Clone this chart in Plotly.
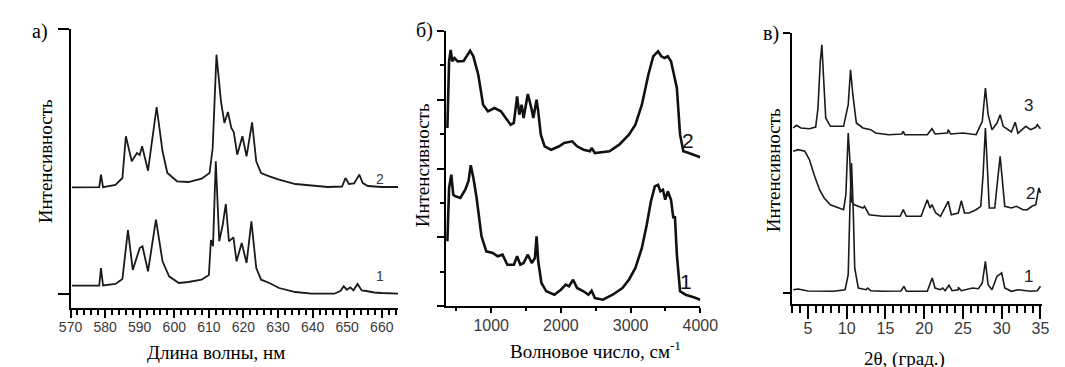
import plotly.graph_objects as go

W, H = 1065, 367

# ---------------- Panel а: luminescence ----------------
lum_x1 = [570.4, 578.3, 578.8, 579.4, 583.0, 585.0, 586.6, 588.0, 590.0, 590.8, 592.4, 594.7,
          596.6, 598.5, 601.3, 604.1, 607.9, 610.0, 610.6, 611.2, 612.0, 613.0, 614.0, 614.9,
          615.8, 617.1, 618.0, 619.5, 620.9, 622.3, 623.7, 625.1, 627.5, 630.3, 635.0, 639.7,
          646.3, 648.1, 649.0, 649.9, 650.9, 651.8, 653.0, 654.2, 655.5, 657.8, 660.0, 664.7]
lum_y1 = [22.3, 22.5, 40.0, 22.5, 24.0, 29.0, 78.0, 38.0, 60.0, 61.7, 36.7, 88.3,
          46.7, 31.7, 25.0, 26.0, 28.3, 33.0, 68.0, 61.7, 146.7, 66.7, 83.0, 104.0,
          66.7, 70.7, 46.7, 65.0, 45.0, 86.7, 40.0, 28.3, 25.0, 20.0, 16.0, 14.3,
          14.3, 17.3, 21.7, 18.3, 20.7, 17.7, 24.0, 17.5, 17.0, 15.5, 15.0, 14.3]

lum_x2 = [570.4, 578.3, 578.8, 579.4, 583.0, 585.0, 586.0, 587.7, 589.2, 590.0, 590.7, 592.4,
          594.9, 596.6, 598.0, 600.8, 604.1, 607.9, 610.2, 611.1, 612.2, 613.5, 614.5, 615.5,
          616.5, 617.2, 618.2, 619.7, 620.9, 622.5, 623.7, 625.1, 627.5, 630.3, 635.0, 644.4,
          648.5, 649.5, 650.5, 652.0, 653.5, 654.5, 656.0, 660.0, 664.7]
lum_y2 = [120.7, 120.8, 133.3, 120.8, 123.0, 130.0, 171.7, 146.7, 155.0, 153.0, 161.7, 137.3,
          201.0, 156.7, 135.0, 126.7, 126.0, 129.3, 135.0, 160.0, 253.3, 206.7, 185.0, 196.0,
          180.0, 176.0, 153.3, 171.7, 151.7, 185.7, 146.7, 135.0, 131.7, 128.3, 124.0, 121.0,
          121.5, 130.0, 124.0, 124.5, 133.3, 125.0, 122.0, 121.0, 121.0]

# ---------------- Panel б: IR spectra ----------------
ir_x2 = [372, 396, 419, 442, 474, 520, 605, 651, 698, 744, 815, 884, 954, 1047, 1093, 1140,
         1209, 1279, 1325, 1372, 1404, 1437, 1465, 1526, 1582, 1605, 1651, 1675, 1712, 1767,
         1860, 1976, 2046, 2162, 2232, 2325, 2418, 2441, 2488, 2697, 2837, 2976, 3069, 3162,
         3255, 3325, 3394, 3441, 3487, 3534, 3580, 3627, 3664, 3710, 3757, 3836, 3906, 4000]
ir_y2 = [178.0, 244.7, 256.0, 244.7, 248.0, 244.7, 245.0, 249.7, 255.3, 249.7, 231.3, 201.3,
         194.7, 198.0, 196.3, 194.7, 188.0, 181.3, 183.0, 209.7, 191.3, 201.3, 188.0, 212.0,
         196.3, 188.0, 206.3, 194.7, 171.3, 159.7, 156.3, 159.7, 163.0, 164.7, 159.7, 156.3,
         154.7, 158.0, 153.0, 154.7, 161.3, 171.3, 181.3, 201.3, 231.3, 249.7, 254.7, 249.7,
         248.0, 249.7, 244.7, 231.3, 218.0, 171.3, 154.7, 153.0, 151.3, 148.7]

ir_x1 = [372, 396, 428, 456, 488, 558, 628, 675, 707, 745, 791, 861, 930, 1023, 1093, 1163,
         1233, 1326, 1372, 1418, 1465, 1526, 1582, 1628, 1651, 1675, 1721, 1791, 1907, 2000,
         2070, 2116, 2176, 2232, 2325, 2395, 2441, 2488, 2604, 2743, 2883, 2976, 3069, 3162,
         3232, 3292, 3348, 3394, 3427, 3464, 3497, 3534, 3580, 3613, 3636, 3664, 3710, 3790,
         3906, 4000]
ir_y1 = [64.7, 118.0, 131.3, 111.3, 109.7, 108.0, 116.3, 125.0, 140.7, 128.0, 108.0, 69.7,
         54.7, 53.0, 49.7, 51.3, 41.3, 41.3, 49.7, 41.3, 43.0, 51.3, 43.0, 48.0, 69.7, 44.7,
         23.0, 14.7, 11.3, 16.3, 21.3, 19.7, 26.3, 18.0, 14.7, 11.3, 15.3, 8.0, 6.3, 11.3,
         18.0, 26.3, 38.0, 58.0, 81.3, 104.7, 119.7, 121.3, 114.7, 116.3, 106.3, 114.7, 106.3,
         88.0, 89.7, 51.3, 14.7, 11.3, 8.7, 6.3]

# ---------------- Panel в: XRD ----------------
xrd_x1 = [3.1, 3.75, 5.0, 6.25, 8.3, 9.8, 10.2, 10.42, 10.63, 10.84, 11.04, 11.5, 12.5, 12.7,
          13.1, 14.6, 17.0, 17.4, 17.7, 20.4, 20.8, 21.04, 21.4, 22.1, 22.4, 22.7, 23.2, 23.6,
          24.4, 24.4, 24.8, 26.25, 27.0, 27.5, 27.9, 28.25, 28.75, 29.4, 29.7, 30.0, 30.4,
          31.25, 32.1, 33.75, 34.6, 35.0]
xrd_y1 = [14.3, 15.0, 13.0, 12.7, 12.7, 14.3, 29.3, 96.0, 141.0, 96.0, 36.0, 16.0, 14.3, 16.0,
          13.3, 12.7, 13.0, 17.7, 12.7, 12.7, 21.0, 26.0, 16.0, 14.3, 16.0, 13.3, 18.7, 13.3,
          14.3, 16.7, 13.3, 16.0, 15.3, 21.0, 42.7, 19.3, 14.3, 27.7, 29.3, 31.0, 16.0,
          12.7, 14.3, 12.7, 13.3, 17.7]

xrd_x2 = [3.1, 3.75, 4.6, 5.2, 5.8, 6.5, 7.1, 7.9, 9.0, 9.6, 9.9, 10.2, 10.4, 10.6, 11.0,
          12.1, 12.3, 12.9, 14.6, 16.9, 17.3, 17.7, 19.6, 20.4, 20.75, 21.0, 21.5, 22.1, 23.1,
          23.5, 24.4, 24.8, 25.2, 25.8, 26.7, 27.3, 27.6, 27.9, 28.2, 28.4, 29.1, 29.5, 29.8,
          30.1, 30.4, 31.25, 31.9, 32.75, 33.3, 33.9, 34.4, 34.8, 35.0]
xrd_y2 = [152.7, 154.3, 152.7, 144.3, 129.3, 114.3, 106.0, 99.3, 96.0, 94.3, 109.3, 171.0,
          146.0, 102.7, 99.3, 96.0, 97.7, 89.3, 87.7, 87.7, 94.3, 87.7, 87.7, 104.3, 96.0,
          99.3, 91.0, 87.7, 102.7, 89.3, 91.0, 103.3, 91.0, 91.0, 94.3, 97.7, 129.3, 176.0,
          129.3, 96.0, 96.0, 122.7, 147.7, 122.7, 97.7, 96.0, 97.7, 94.3, 94.3, 97.7, 99.3,
          116.0, 111.0]

xrd_x3 = [3.1, 3.5, 4.1, 5.2, 6.0, 6.3, 6.6, 6.8, 7.0, 7.3, 7.9, 9.6, 10.2, 10.5, 10.8, 11.25,
          12.1, 13.1, 13.75, 15.4, 17.1, 17.3, 17.5, 20.4, 21.0, 21.4, 23.0, 23.1, 23.4, 25.0,
          26.7, 27.5, 27.9, 28.25, 28.75, 29.4, 29.8, 30.2, 31.25, 31.75, 32.1, 33.1, 33.75,
          34.4, 34.6, 35.0]
xrd_y3 = [176.0, 178.7, 176.0, 175.3, 177.0, 196.0, 242.7, 259.3, 229.3, 186.0, 177.7, 177.7,
          199.3, 234.3, 209.3, 181.0, 176.0, 174.3, 171.0, 169.3, 170.0, 172.7, 169.3, 169.3,
          175.3, 170.0, 171.0, 174.3, 170.0, 171.0, 169.3, 182.7, 216.0, 189.3, 174.3, 181.0,
          189.3, 177.7, 172.0, 181.7, 170.7, 177.7, 174.3, 176.7, 179.3, 175.3]

# tick definitions
lum_ticks = [570, 580, 590, 600, 610, 620, 630, 640, 650, 660]
ir_ticks = [1000, 2000, 3000, 4000]
xrd_ticks = [5, 10, 15, 20, 25, 30, 35]


def px(x):
    return x / W


def py(y):
    return 1 - y / H


fig = go.Figure()
line_a = dict(color="#1a1a1a", width=1.8)
line_b = dict(color="#111111", width=2.6)
line_c = dict(color="#1a1a1a", width=1.6)

fig.add_trace(go.Scatter(x=lum_x1, y=lum_y1, mode="lines", line=line_a, xaxis="x", yaxis="y"))
fig.add_trace(go.Scatter(x=lum_x2, y=lum_y2, mode="lines", line=line_a, xaxis="x", yaxis="y"))
fig.add_trace(go.Scatter(x=ir_x1, y=ir_y1, mode="lines", line=line_b, xaxis="x2", yaxis="y2"))
fig.add_trace(go.Scatter(x=ir_x2, y=ir_y2, mode="lines", line=line_b, xaxis="x2", yaxis="y2"))
fig.add_trace(go.Scatter(x=xrd_x1, y=xrd_y1, mode="lines", line=line_c, xaxis="x3", yaxis="y3"))
fig.add_trace(go.Scatter(x=xrd_x2, y=xrd_y2, mode="lines", line=line_c, xaxis="x3", yaxis="y3"))
fig.add_trace(go.Scatter(x=xrd_x3, y=xrd_y3, mode="lines", line=line_c, xaxis="x3", yaxis="y3"))

tickfont_a = dict(family="Liberation Sans", size=14, color="#3a3a3a")
tickfont_b = dict(family="Liberation Sans", size=16, color="#3a3a3a")

axis_common = dict(showline=True, linecolor="black", linewidth=2, showgrid=False,
                   zeroline=False, ticks="outside", tickcolor="black", tickwidth=1.5)

fig.update_layout(
    width=W, height=H,
    margin=dict(l=0, r=0, t=0, b=0),
    paper_bgcolor="white", plot_bgcolor="white",
    showlegend=False,
    xaxis=dict(axis_common, domain=[px(52), px(389)], range=[570, 664.7], anchor="y",
               tickvals=lum_ticks, ticklen=8, tickfont=tickfont_a, ticklabelstandoff=-3,
               minor=dict(dtick=2, tick0=570, ticklen=5, tickcolor="black", ticks="outside")),
    yaxis=dict(axis_common, domain=[py(300), py(21)], range=[0, 279], anchor="x",
               tickvals=[14, 279], ticklen=11, showticklabels=False),
    xaxis2=dict(axis_common, domain=[px(438), px(700)], range=[347, 4000], anchor="y2",
                tickvals=ir_ticks, ticklen=5, tickfont=tickfont_b, ticklabelstandoff=-1,
                minor=dict(dtick=500, tick0=0, ticklen=3, tickcolor="black", ticks="outside")),
    yaxis2=dict(axis_common, domain=[py(298), py(23)], range=[0, 275], anchor="x2",
                tickvals=[0, 68.75, 137.5, 206.25, 275], ticklen=7, showticklabels=False,
                minor=dict(tickvals=[34.4, 103.1, 171.9, 240.6], ticklen=4,
                           tickcolor="black", ticks="outside")),
    xaxis3=dict(axis_common, domain=[px(794), px(1052)], range=[2.9, 35.25], anchor="y3",
                tickvals=xrd_ticks, ticklen=13, tickfont=tickfont_b, ticklabelstandoff=-4,
                minor=dict(dtick=1, tick0=0, ticklen=7, tickcolor="black", ticks="outside")),
    yaxis3=dict(axis_common, domain=[py(296), py(25)], range=[0, 271], anchor="x3",
                tickvals=[11, 271], ticklen=7, showticklabels=False),
)

serif = "Liberation Serif"
ann = []


def add_text(text, x, y, size, family=serif, color="black", angle=0):
    ann.append(dict(text=text, x=px(x), y=py(y), xref="paper", yref="paper",
                    showarrow=False, textangle=angle, xanchor="center", yanchor="middle",
                    font=dict(family=family, size=size, color=color)))


# panel letters
add_text("а)", 21, 24, 20)
add_text("б)", 416, 22, 20)
add_text("в)", 773, 25, 20)
# y titles
add_text("Интенсивность", 26, 153, 19, angle=-90)
add_text("Интенсивность", 414, 157, 19, angle=-90)
add_text("Интенсивность", 775, 162, 19, angle=-90)
# x titles
add_text("Длина волны, нм", 202, 344, 19)
add_text("Волновое число, см<sup>-1</sup>", 592, 342, 19)
add_text("2θ, (град.)", 910, 351, 19)
# curve numbers
sans = "Liberation Sans"
add_text("2", 370, 171, 14, family=sans, color="#3a3a3a")
add_text("1", 370, 268, 14, family=sans, color="#3a3a3a")
add_text("2", 687, 132, 21, family=sans, color="#111111")
add_text("1", 685, 273, 21, family=sans, color="#111111")
add_text("3", 1038, 98, 17, family=sans, color="#222222")
add_text("2", 1040, 185, 17, family=sans, color="#222222")
add_text("1", 1038, 268, 17, family=sans, color="#222222")

fig.update_layout(annotations=ann)
fig.write_html("out.html")
